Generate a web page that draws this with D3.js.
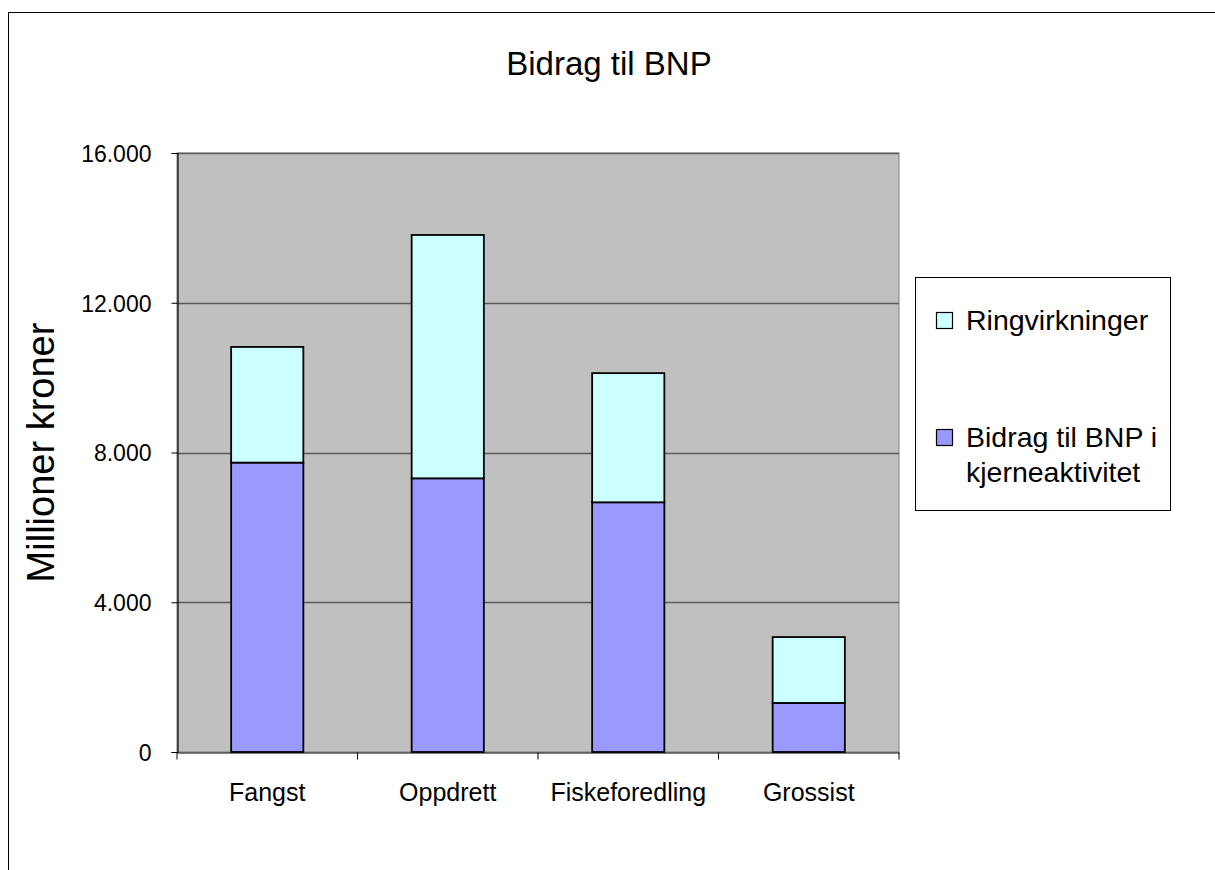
<!DOCTYPE html>
<html>
<head>
<meta charset="utf-8">
<script src="https://cdn.jsdelivr.net/npm/d3@7"></script>
<style>
  body { margin: 0; background: #fff; }
  text { font-family: Arial, "Liberation Sans", sans-serif; fill: #000; }
</style>
</head>
<body>
<script>
'use strict';

const categories = ['Fangst', 'Oppdrett', 'Fiskeforedling', 'Grossist'];
const kjerne = [7730, 7310, 6670, 1310];
const ringvirkninger = [3090, 6500, 3450, 1760];
const yTicks = [0, 4000, 8000, 12000, 16000];
const seriesNames = ['Bidrag til BNP i kjerneaktivitet', 'Ringvirkninger'];
const seriesColors = ['#9999FF', '#CCFFFF'];

const width = 1215;
const height = 870;
const plot = { left: 177, right: 899, top: 153, bottom: 752 };

const rows = categories.map(function(c, i) {
  return { cat: c, kjerne: kjerne[i], ring: ringvirkninger[i] };
});
const stack = d3.stack().keys(['kjerne', 'ring']);
const layers = stack(rows);

const x = d3.scaleBand().domain(categories).range([plot.left, plot.right]).paddingInner(0.6).paddingOuter(0.3);
const xBand = d3.scaleBand().domain(categories).range([plot.left, plot.right]);
const y = d3.scaleLinear().domain([0, 16000]).range([plot.bottom, plot.top]);

const svg = d3.select('body').append('svg')
  .attr('width', width)
  .attr('height', height);

// outer chart border
svg.append('rect')
  .attr('x', 8.5).attr('y', 12.5)
  .attr('width', width).attr('height', height)
  .attr('fill', '#fff').attr('stroke', '#000').attr('stroke-width', 1);

// plot background
svg.append('rect')
  .attr('x', plot.left).attr('y', plot.top)
  .attr('width', plot.right - plot.left).attr('height', plot.bottom - plot.top)
  .attr('fill', '#C0C0C0').attr('stroke', '#808080').attr('stroke-width', 1);

// gridlines
svg.append('g')
  .selectAll('line')
  .data(yTicks.filter(function(d) { return d > 0; }))
  .enter().append('line')
  .attr('x1', plot.left).attr('x2', plot.right)
  .attr('y1', function(d) { return Math.round(y(d)) + 0.5; })
  .attr('y2', function(d) { return Math.round(y(d)) + 0.5; })
  .attr('stroke', '#5a5a5a').attr('stroke-width', 1.3);

// bars
svg.append('g')
  .selectAll('g')
  .data(layers)
  .enter().append('g')
  .attr('fill', function(d, i) { return seriesColors[i]; })
  .selectAll('rect')
  .data(function(d) { return d; })
  .enter().append('rect')
  .attr('x', function(d) { return x(d.data.cat); })
  .attr('width', x.bandwidth())
  .attr('y', function(d) { return y(d[1]); })
  .attr('height', function(d) { return y(d[0]) - y(d[1]); })
  .attr('stroke', '#000').attr('stroke-width', 1.8);

// y axis
const yAxis = d3.axisLeft(y)
  .tickValues(yTicks)
  .tickSize(6)
  .tickPadding(20)
  .tickFormat(function(d) { return d === 0 ? '0' : d3.format(',')(d).replace(/,/g, '.'); });

const yg = svg.append('g')
  .attr('transform', 'translate(' + (plot.left + 0.5) + ',0)')
  .call(yAxis);
yg.select('.domain').attr('stroke', '#000').attr('stroke-width', 1.2);
yg.selectAll('.tick line').attr('stroke', '#000');
yg.selectAll('.tick text')
  .style('font-size', '23px')
  .attr('dy', '0.36em');

// x axis
const xAxis = d3.axisBottom(xBand).tickSize(0).tickPadding(0);
const xg = svg.append('g')
  .attr('transform', 'translate(0,' + (plot.bottom + 0.5) + ')')
  .call(xAxis);
xg.select('.domain').attr('stroke', '#000').attr('stroke-width', 1.2);
xg.selectAll('.tick text')
  .style('font-size', '25px')
  .attr('y', 48)
  .attr('dy', 0);
xg.append('g')
  .selectAll('line')
  .data(categories.concat(['end']))
  .enter().append('line')
  .attr('x1', function(d, i) { return xBand.range()[0] + i * xBand.step(); })
  .attr('x2', function(d, i) { return xBand.range()[0] + i * xBand.step(); })
  .attr('y1', 0).attr('y2', 7)
  .attr('stroke', '#000');

// title
svg.append('text')
  .attr('x', 609).attr('y', 75)
  .attr('text-anchor', 'middle')
  .style('font-size', '33px')
  .text('Bidrag til BNP');

// y label
svg.append('text')
  .attr('transform', 'translate(54,' + ((plot.top + plot.bottom) / 2) + ') rotate(-90)')
  .attr('text-anchor', 'middle')
  .style('font-size', '38px')
  .text('Millioner kroner');

// legend
const legend = svg.append('g');
legend.append('rect')
  .attr('x', 915.5).attr('y', 277.5)
  .attr('width', 255).attr('height', 233)
  .attr('fill', '#fff').attr('stroke', '#000').attr('stroke-width', 1);

const legendItems = [
  { name: seriesNames[1], color: seriesColors[1], lines: ['Ringvirkninger'], top: 312 },
  { name: seriesNames[0], color: seriesColors[0], lines: ['Bidrag til BNP i', 'kjerneaktivitet'], top: 429 }
];
const li = legend.selectAll('g.item')
  .data(legendItems)
  .enter().append('g').attr('class', 'item');
li.append('rect')
  .attr('x', 936.5)
  .attr('y', function(d) { return d.top + 0.5; })
  .attr('width', 16).attr('height', 16)
  .attr('fill', function(d) { return d.color; })
  .attr('stroke', '#000').attr('stroke-width', 1.2);
li.append('text')
  .attr('x', 966)
  .attr('y', function(d) { return d.top + 18; })
  .style('font-size', '28.5px')
  .selectAll('tspan')
  .data(function(d) { return d.lines; })
  .enter().append('tspan')
  .attr('x', 966)
  .attr('dy', function(d, i) { return i === 0 ? 0 : 35; })
  .text(function(d) { return d; });
</script>
</body>
</html>
